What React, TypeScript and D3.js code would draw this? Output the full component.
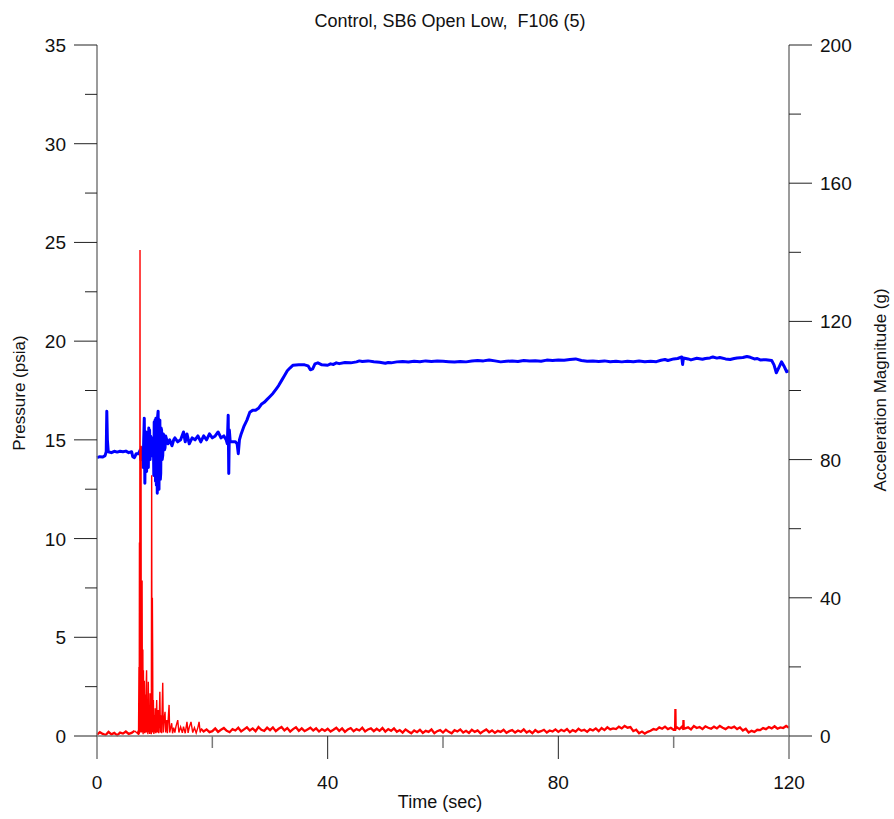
import React from 'react';
import * as d3 from 'd3';

const chartTitle = 'Control, SB6 Open Low,  F106 (5)';
const xTitle = 'Time (sec)';
const leftTitle = 'Pressure (psia)';
const rightTitle = 'Acceleration Magnitude (g)';

const timeMajor = [0, 40, 80, 120];
const timeMinor = [20, 60, 100];
const pressureMajor = [0, 5, 10, 15, 20, 25, 30, 35];
const pressureMinor = [2.5, 7.5, 12.5, 17.5, 22.5, 27.5, 32.5];
const accelMajor = [0, 40, 80, 120, 160, 200];
const accelMinor = [20, 60, 100, 140, 180];

// Pressure trace [time s, psia]
const pressure: [number, number][] = [
  [0, 14.1], [0.5, 14.15], [1.0, 14.13], [1.4, 14.2], [1.6, 14.4], [1.7, 16.45], [1.8, 15.0], [1.95, 14.4],
  [2.5, 14.35], [3.0, 14.42], [3.5, 14.38], [4.0, 14.42], [4.5, 14.4], [5.0, 14.43], [5.5, 14.35], [6.0, 14.4],
  [6.2, 14.15], [6.5, 14.1], [6.8, 14.3], [7.2, 14.3], [7.5, 14.5], [7.6, 14.0], [7.7, 14.6], [7.8, 14.1],
  [7.9, 14.6], [8.0, 13.6], [8.1, 15.0], [8.2, 16.1], [8.3, 12.8], [8.38, 15.1], [8.45, 13.5], [8.52, 15.4],
  [8.6, 13.4], [8.68, 15.2], [8.75, 14.0], [8.82, 14.9], [8.9, 13.6], [8.98, 15.6], [9.05, 14.2], [9.12, 15.5],
  [9.2, 14.0], [9.28, 15.2], [9.35, 14.3], [9.42, 15.0], [9.5, 14.2], [9.6, 15.1], [9.7, 14.3], [9.78, 14.9],
  [9.85, 13.2], [9.92, 15.9], [10.0, 13.4], [10.08, 16.0], [10.15, 12.9], [10.22, 16.1], [10.3, 12.7],
  [10.38, 15.8], [10.45, 12.3], [10.52, 16.2], [10.6, 16.45], [10.68, 12.6], [10.75, 12.5], [10.82, 15.9],
  [10.9, 16.0], [10.98, 13.0], [11.05, 13.3], [11.12, 15.6], [11.2, 15.5], [11.3, 14.0], [11.4, 14.2],
  [11.5, 15.3], [11.6, 15.2], [11.7, 14.5], [11.8, 14.6], [11.9, 15.2], [12.0, 15.1], [12.3, 14.8],
  [12.6, 15.0], [13.0, 14.7], [13.3, 15.0], [13.5, 15.1], [14.0, 14.9], [14.5, 15.0], [15.0, 15.4],
  [15.3, 14.9], [15.6, 15.3], [16.0, 14.8], [16.5, 15.1], [17.0, 15.0], [17.5, 15.2], [18.0, 14.9],
  [18.5, 15.2], [19.0, 15.0], [19.5, 15.3], [20.0, 15.1], [20.5, 15.2], [21.0, 15.4], [21.5, 15.1],
  [22.0, 15.2], [22.4, 15.0], [22.6, 14.8], [22.75, 16.25], [22.85, 13.3], [22.95, 15.5], [23.1, 14.9],
  [23.5, 14.9], [24.0, 14.9], [24.3, 14.8], [24.5, 14.3], [24.7, 15.0], [25.0, 15.3], [25.5, 15.7],
  [26.0, 16.0], [26.5, 16.4], [27.0, 16.5], [27.5, 16.5], [28.0, 16.6], [28.5, 16.8], [29.0, 16.9],
  [29.5, 17.05], [30.0, 17.2], [30.5, 17.35], [31.0, 17.55], [31.5, 17.75], [32.0, 18.0], [32.5, 18.25],
  [33.0, 18.5], [33.5, 18.65], [34.0, 18.78], [35.0, 18.8], [36.0, 18.8], [36.6, 18.75], [37.0, 18.55],
  [37.4, 18.6], [37.8, 18.85], [38.3, 18.9], [39.0, 18.8], [40.0, 18.78], [40.5, 18.85], [41.0, 18.82],
  [41.5, 18.9], [42.0, 18.86], [43.0, 18.92], [44.0, 18.9], [45.0, 18.95], [45.5, 19.0], [46.0, 18.97],
  [47.0, 19.0], [48.0, 18.96], [49.0, 18.93], [50.0, 18.88], [50.5, 18.92], [51.0, 18.9], [52.0, 18.95],
  [53.0, 18.97], [54.0, 18.94], [55.0, 18.98], [56.0, 18.96], [57.0, 19.0], [58.0, 18.97], [59.0, 19.0],
  [60.0, 18.98], [61.0, 18.96], [62.0, 18.94], [63.0, 18.97], [64.0, 18.95], [65.0, 18.99], [66.0, 19.02],
  [67.0, 19.0], [68.0, 19.05], [69.0, 19.0], [70.0, 18.95], [71.0, 18.98], [72.0, 19.0], [73.0, 18.97],
  [74.0, 19.02], [75.0, 18.99], [76.0, 19.01], [77.0, 18.98], [78.0, 19.04], [79.0, 19.02], [80.0, 19.05],
  [81.0, 19.03], [82.0, 19.07], [83.0, 19.1], [84.0, 19.02], [85.0, 18.98], [86.0, 19.0], [87.0, 18.97],
  [88.0, 19.0], [89.0, 18.96], [90.0, 18.98], [91.0, 18.95], [92.0, 18.98], [93.0, 18.96], [94.0, 18.99],
  [95.0, 18.96], [96.0, 18.98], [97.0, 18.96], [97.8, 19.03], [98.5, 19.07], [99.0, 19.02], [100.0, 19.1],
  [100.7, 19.12], [101.4, 19.2], [101.55, 18.82], [101.7, 19.15], [102.5, 19.1], [103.0, 19.05],
  [104.0, 19.13], [105.0, 19.08], [105.5, 19.12], [106.3, 19.15], [106.8, 19.2], [107.5, 19.14],
  [108.0, 19.17], [109.0, 19.1], [109.8, 19.07], [110.5, 19.12], [111.0, 19.15], [112.0, 19.17],
  [112.7, 19.22], [113.3, 19.18], [114.0, 19.1], [114.5, 19.12], [115.0, 19.05], [116.0, 19.06],
  [117.0, 19.02], [117.4, 18.8], [117.8, 18.4], [118.3, 18.7], [118.7, 18.95], [119.2, 18.7],
  [119.6, 18.45], [120.0, 18.5],
];

// Acceleration baseline, sampled every 0.5 s from t = 0 (g)
const accelStep = 0.5;
const accelBaseline = [
  0.4, 1.1, 0.6, 0.3, 1.2, 0.5, 0.9, 0.2, 1.0, 0.7, 1.3, 0.6, 0.9, 1.5, 0.8, 1.2, 1.6, 0.9, 1.4, 1.1,
  1.0, 1.9, 1.2, 1.5, 2.1, 1.0, 1.7, 1.3, 2.0, 1.1, 1.6, 2.2, 1.2, 1.8, 1.0, 1.5, 2.1, 1.3, 1.9, 1.1,
  1.4, 2.2, 1.2, 1.8, 2.3, 1.5, 1.1, 2.0, 1.6, 2.4, 1.3, 1.9, 2.5, 1.6, 2.2, 1.4, 2.6, 1.8, 1.5, 2.4,
  1.7, 2.5, 1.4, 2.1, 2.6, 1.6, 2.3, 1.3, 2.0, 2.5, 1.5, 2.2, 1.4, 1.9, 2.4, 1.6, 2.2, 1.3, 2.0, 1.5,
  2.1, 1.3, 1.8, 2.4, 1.5, 2.2, 1.2, 1.9, 2.3, 1.4, 2.0, 1.6, 2.4, 1.3, 1.9, 2.2, 1.4, 2.1, 1.5, 2.3,
  1.3, 2.0, 1.5, 2.2, 1.2, 1.7, 1.0, 1.9, 1.3, 0.8, 1.6, 1.1, 1.8, 0.9, 1.5, 1.2, 1.9, 0.8, 1.4, 1.7,
  1.0, 1.8, 1.2, 0.8, 1.7, 1.3, 1.9, 1.0, 1.5, 0.9, 1.8, 1.2, 1.6, 0.8, 1.4, 1.9, 1.1, 1.6, 0.9, 1.5,
  1.2, 1.8, 0.9, 1.4, 1.7, 1.0, 1.6, 1.2, 1.9, 1.0, 1.5, 0.8, 1.7, 1.1, 1.4, 1.8, 1.0, 1.6, 1.3, 1.9,
  1.2, 1.8, 1.4, 2.0, 1.1, 1.7, 1.3, 2.1, 1.5, 1.8, 1.2, 2.0, 1.6, 2.2, 1.4, 2.3, 1.7, 2.5, 1.9, 2.2,
  2.0, 2.7, 2.2, 2.9, 2.4, 2.6, 1.4, 1.8, 0.8, 1.3, 0.7, 1.2, 1.5, 2.0, 1.8, 2.5, 2.1, 2.7, 2.0, 2.4,
  1.8, 2.6, 2.0, 2.8, 2.2, 2.5, 1.9, 2.9, 2.3, 2.6, 2.0, 2.8, 2.4, 2.1, 2.7, 2.2, 2.9, 2.4, 2.0, 2.6,
  2.3, 2.7, 2.0, 2.5, 1.6, 2.1, 1.0, 1.5, 1.2, 1.8, 1.7, 2.3, 2.0, 2.6, 2.2, 2.8, 2.1, 2.5, 2.3, 2.9,
  2.4,
];

// Impact burst [time s, g]
const accelBurst: [number, number][] = [
  [7.0, 0.8], [7.15, 1.5], [7.2, 0.3], [7.28, 20], [7.32, 0.5], [7.36, 56], [7.4, 1], [7.46, 140.7], [7.5, 2],
  [7.56, 30], [7.6, 1], [7.64, 84], [7.68, 3], [7.74, 40], [7.78, 1], [7.82, 45], [7.88, 2], [7.95, 25],
  [8.0, 0.5], [8.05, 19], [8.12, 1], [8.2, 16], [8.28, 0.8], [8.36, 12], [8.44, 1], [8.52, 14], [8.6, 19],
  [8.66, 1], [8.74, 10], [8.82, 0.5], [8.9, 15.7], [8.98, 1], [9.06, 8], [9.14, 0.6], [9.2, 12.4], [9.28, 1],
  [9.36, 6], [9.42, 0.5], [9.48, 75.5], [9.54, 1], [9.6, 40], [9.65, 25], [9.7, 1], [9.78, 10.4], [9.86, 0.6],
  [9.94, 6], [10.02, 1], [10.1, 8], [10.2, 0.8], [10.35, 10.4], [10.45, 1], [10.6, 7.5], [10.7, 0.8],
  [10.8, 5], [10.9, 12.8], [11.0, 1], [11.1, 6], [11.2, 0.8], [11.4, 15.4], [11.5, 1], [11.65, 5], [11.8, 7],
  [11.9, 1], [12.1, 4.6], [12.2, 0.8], [12.5, 9], [12.6, 1], [12.8, 2.5], [12.95, 3.7], [13.1, 0.8],
  [13.3, 2.4], [13.5, 1], [13.7, 2.8], [14.0, 4.6], [14.2, 1.0], [14.5, 2.6], [14.8, 0.9], [15.0, 2.7],
  [15.3, 0.8], [15.6, 4.1], [15.8, 0.9], [16.0, 2.5], [16.3, 4.1], [16.6, 1.0], [16.9, 2.4], [17.2, 0.9],
  [17.5, 2.5], [17.7, 4.1], [17.9, 1.0],
];

// Isolated spikes later in the run [time s, g]
const accelSpikes: [number, number][] = [
  [100.25, 1.8], [100.3, 7.8], [100.35, 2.0], [101.65, 1.9], [101.7, 4.6], [101.75, 2.1],
];

const FONT = '"Liberation Sans", Arial, sans-serif';

export default function App() {
  const W = 894;
  const H = 819;
  const x = d3.scaleLinear().domain([0, 120]).range([97, 789]);
  const yL = d3.scaleLinear().domain([0, 35]).range([736, 45]);
  const yR = d3.scaleLinear().domain([0, 200]).range([736, 45]);

  const burstStart = accelBurst[0][0];
  const burstEnd = accelBurst[accelBurst.length - 1][0];
  const base: [number, number][] = accelBaseline.map((g, i) => [i * accelStep, g] as [number, number]);
  const before = base.filter(([t]) => t < burstStart);
  const after = base
    .filter(([t]) => t > burstEnd)
    .concat(accelSpikes)
    .sort((a, b) => a[0] - b[0]);
  const burst: [number, number][] = [before[before.length - 1], ...accelBurst, after[0]];

  const pLine = d3.line<[number, number]>().x((d) => x(d[0])).y((d) => yL(d[1]));
  const aLine = d3.line<[number, number]>().x((d) => x(d[0])).y((d) => yR(d[1]));

  const axisColor = '#7a7a7a';
  const tickColor = '#222';
  const major = 23;
  const minor = 12;
  const x0 = x.range()[0];
  const x1 = x.range()[1];
  const yb = yL.range()[0];
  const yt = yL.range()[1];

  return (
    <div style={{ position: 'absolute', left: 0, top: 0 }}>
      <svg width={W} height={H} style={{ display: 'block', background: '#fff' }} fontFamily={FONT}>
        <rect width={W} height={H} fill="#fff" />
        <text x={450} y={27} textAnchor="middle" fontSize={18} fill="#111" style={{ whiteSpace: 'pre' }}>{chartTitle}</text>

        {/* data */}
        <path d={pLine(pressure) || ''} fill="none" stroke="#0000ff" strokeWidth={3} strokeLinejoin="round" />
        <path d={aLine(before) || ''} fill="none" stroke="#ff0000" strokeWidth={2.3} />
        <path d={aLine(after) || ''} fill="none" stroke="#ff0000" strokeWidth={2.3} />
        <path d={aLine(burst) || ''} fill="none" stroke="#ff0000" strokeWidth={1.4} />

        {/* axes lines */}
        <line x1={x0} x2={x0} y1={yt} y2={yb + major} stroke={axisColor} strokeWidth={1.5} />
        <line x1={x1} x2={x1} y1={yt} y2={yb + major} stroke={axisColor} strokeWidth={1.5} />
        <line x1={x0} x2={x1} y1={yb} y2={yb} stroke={axisColor} strokeWidth={1.5} />

        {/* left ticks */}
        {pressureMajor.map((v) => (
          <g key={'lm' + v}>
            <line x1={x0 - major} x2={x0} y1={yL(v)} y2={yL(v)} stroke={tickColor} strokeWidth={1} />
            <text x={x0 - 31} y={yL(v) + 7} textAnchor="end" fontSize={19} fill="#111">{v}</text>
          </g>
        ))}
        {pressureMinor.map((v) => (
          <line key={'ln' + v} x1={x0 - minor} x2={x0} y1={yL(v)} y2={yL(v)} stroke={tickColor} strokeWidth={1} />
        ))}

        {/* right ticks */}
        {accelMajor.map((v) => (
          <g key={'rm' + v}>
            <line x1={x1} x2={x1 + major} y1={yR(v)} y2={yR(v)} stroke={tickColor} strokeWidth={1} />
            <text x={x1 + 31} y={yR(v) + 7} textAnchor="start" fontSize={19} fill="#111">{v}</text>
          </g>
        ))}
        {accelMinor.map((v) => (
          <line key={'rn' + v} x1={x1} x2={x1 + minor} y1={yR(v)} y2={yR(v)} stroke={tickColor} strokeWidth={1} />
        ))}

        {/* bottom ticks */}
        {timeMajor.map((v) => (
          <g key={'bm' + v}>
            {v !== 0 && v !== 120 && (
              <line x1={x(v)} x2={x(v)} y1={yb} y2={yb + major} stroke={tickColor} strokeWidth={1} />
            )}
            <text x={x(v)} y={789} textAnchor="middle" fontSize={19} fill="#111">{v}</text>
          </g>
        ))}
        {timeMinor.map((v) => (
          <line key={'bn' + v} x1={x(v)} x2={x(v)} y1={yb} y2={yb + minor} stroke={axisColor} strokeWidth={1.5} />
        ))}

        <text x={440} y={808} textAnchor="middle" fontSize={18} fill="#111">{xTitle}</text>
        <text transform={`translate(25,393) rotate(-90)`} textAnchor="middle" fontSize={17} fill="#111">{leftTitle}</text>
        <text transform={`translate(886,390) rotate(-90)`} textAnchor="middle" fontSize={17} fill="#111">{rightTitle}</text>
      </svg>
    </div>
  );
}
